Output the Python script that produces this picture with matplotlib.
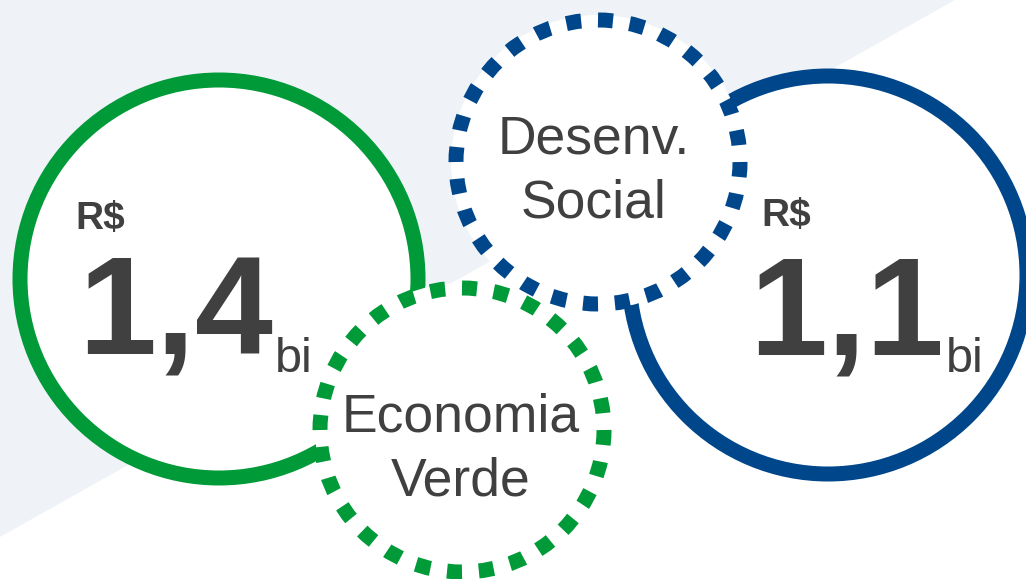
import numpy as np
import matplotlib.pyplot as plt
from matplotlib.patches import Circle, Polygon

plt.rcParams['font.family'] = ['Liberation Sans', 'DejaVu Sans']

# dados do quadro
moeda = "R$"
valores = ["1,4", "1,1"]
unidade = "bi"
eixos = [["Economia", "Verde"], ["Desenv.", "Social"]]

GREEN = "#009a38"
BLUE = "#00468b"
TXT = "#404040"
BG = "#eff3f7"

W, H = 1026, 579
fig = plt.figure(figsize=(W / 100, H / 100), dpi=100)
ax = fig.add_axes([0, 0, 1, 1])
ax.set_xlim(0, W)
ax.set_ylim(H, 0)
ax.axis('off')

# faixa diagonal de fundo
ax.add_patch(Polygon([(0, 0), (955, 0), (0, 537)], closed=True, fc=BG, ec='none', zorder=0))

lw = 15 * 0.72
grandes = [(219, 279), (828, 275)]
pequenos = [(462, 430), (598, 162)]
cores = [GREEN, BLUE]

# circulos cheios com valor
for (cx, cy), c in zip(grandes, cores):
    ax.add_patch(Circle((cx, cy), 199, fc='white', ec=c, lw=lw, zorder=1))

# circulos pontilhados com o eixo
for (cx, cy), c in zip(pequenos, cores):
    ax.add_patch(Circle((cx, cy), 147, fc='white', ec='none', zorder=2))
    per = 2 * np.pi * 142 * 0.72 / 28
    ax.add_patch(Circle((cx, cy), 142, fc='none', ec=c, lw=lw,
                        linestyle=(0, (1, (per - lw) / lw)), capstyle='butt', zorder=3))

# textos dos valores
pos_rs = [(75, 229), (761, 226)]
pos_val = [(78, 354), (749, 354)]
pos_bi = [(275, 372), (946, 372)]
for i in range(2):
    ax.text(*pos_rs[i], moeda, fontsize=28, fontweight='bold', color=TXT, zorder=4)
    ax.text(*pos_val[i], valores[i], fontsize=101, fontweight='bold', color=TXT, zorder=4)
    ax.text(*pos_bi[i], unidade, fontsize=35, color=TXT, zorder=4)

# textos dos eixos
base = [(461, 432), (594, 153)]
for (x, y), linhas in zip(base, eixos):
    for k, s in enumerate(linhas):
        ax.text(x, y + 64 * k, s, fontsize=38.5, color=TXT, ha='center', zorder=4)

fig.savefig('out.png', dpi=100, facecolor='white')
